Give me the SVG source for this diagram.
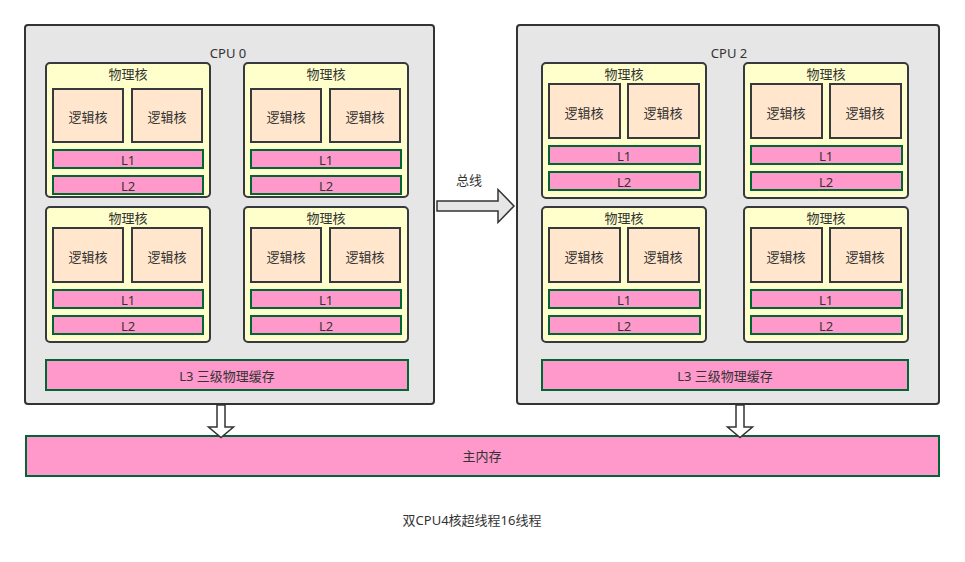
<svg xmlns="http://www.w3.org/2000/svg" width="965" height="562" viewBox="0 0 965 562">
<style>
text{font-family:"Noto Sans","Noto Sans CJK SC",sans-serif;font-size:13px;fill:#333333;text-anchor:middle;dominant-baseline:central}
.cpu{fill:#e6e6e6;stroke:#333333;stroke-width:2}
.core{fill:#ffffcc;stroke:#36393d;stroke-width:2}
.logic{fill:#ffe6cc;stroke:#36393d;stroke-width:2}
.cache{fill:#ff99cc;stroke:#006633;stroke-width:2}
.arrow{stroke:#333333;stroke-width:1.5;stroke-linejoin:miter}
</style>
<rect width="965" height="562" fill="#ffffff"/>
<g id="cpu0">
<rect class="cpu" x="25" y="25" width="409" height="379" rx="3"/>
<text x="228" y="53">CPU 0</text>
</g>
<g id="cpu2">
<rect class="cpu" x="517" y="25" width="422" height="379" rx="3"/>
<text x="729" y="53">CPU 2</text>
</g>
<g id="cpu0-core1" transform="translate(45,62)">
<rect class="core" x="1" y="1" width="164" height="134" rx="4"/>
<text x="83" y="12">物理核</text>
<rect class="logic" x="8" y="27" width="70" height="53"/><text x="43" y="55">逻辑核</text>
<rect class="logic" x="87" y="27" width="70" height="53"/><text x="122" y="55">逻辑核</text>
<rect class="cache" x="8" y="88" width="150" height="18"/><text x="83" y="98">L1</text>
<rect class="cache" x="8" y="114" width="150" height="18"/><text x="83" y="124">L2</text>
</g>
<g id="cpu0-core2" transform="translate(243,62)">
<rect class="core" x="1" y="1" width="164" height="134" rx="4"/>
<text x="83" y="12">物理核</text>
<rect class="logic" x="8" y="27" width="70" height="53"/><text x="43" y="55">逻辑核</text>
<rect class="logic" x="87" y="27" width="70" height="53"/><text x="122" y="55">逻辑核</text>
<rect class="cache" x="8" y="88" width="150" height="18"/><text x="83" y="98">L1</text>
<rect class="cache" x="8" y="114" width="150" height="18"/><text x="83" y="124">L2</text>
</g>
<g id="cpu0-core3" transform="translate(45,206)">
<rect class="core" x="1" y="1" width="164" height="135" rx="4"/>
<text x="83" y="12">物理核</text>
<rect class="logic" x="8" y="22" width="70" height="54"/><text x="43" y="51">逻辑核</text>
<rect class="logic" x="87" y="22" width="70" height="54"/><text x="122" y="51">逻辑核</text>
<rect class="cache" x="8" y="84" width="150" height="18"/><text x="83" y="94">L1</text>
<rect class="cache" x="8" y="110" width="150" height="18"/><text x="83" y="120">L2</text>
</g>
<g id="cpu0-core4" transform="translate(243,206)">
<rect class="core" x="1" y="1" width="164" height="135" rx="4"/>
<text x="83" y="12">物理核</text>
<rect class="logic" x="8" y="22" width="70" height="54"/><text x="43" y="51">逻辑核</text>
<rect class="logic" x="87" y="22" width="70" height="54"/><text x="122" y="51">逻辑核</text>
<rect class="cache" x="8" y="84" width="150" height="18"/><text x="83" y="94">L1</text>
<rect class="cache" x="8" y="110" width="150" height="18"/><text x="83" y="120">L2</text>
</g>
<g id="cpu2-core1" transform="translate(541,62)">
<rect class="core" x="1" y="1" width="164" height="135" rx="4"/>
<text x="83" y="12">物理核</text>
<rect class="logic" x="8" y="22" width="71" height="54"/><text x="43" y="51">逻辑核</text>
<rect class="logic" x="87" y="22" width="71" height="54"/><text x="122" y="51">逻辑核</text>
<rect class="cache" x="8" y="84" width="151" height="18"/><text x="83" y="94">L1</text>
<rect class="cache" x="8" y="110" width="151" height="18"/><text x="83" y="120">L2</text>
</g>
<g id="cpu2-core2" transform="translate(743,62)">
<rect class="core" x="1" y="1" width="164" height="135" rx="4"/>
<text x="83" y="12">物理核</text>
<rect class="logic" x="8" y="22" width="71" height="54"/><text x="43" y="51">逻辑核</text>
<rect class="logic" x="87" y="22" width="71" height="54"/><text x="122" y="51">逻辑核</text>
<rect class="cache" x="8" y="84" width="151" height="18"/><text x="83" y="94">L1</text>
<rect class="cache" x="8" y="110" width="151" height="18"/><text x="83" y="120">L2</text>
</g>
<g id="cpu2-core3" transform="translate(541,206)">
<rect class="core" x="1" y="1" width="164" height="135" rx="4"/>
<text x="83" y="12">物理核</text>
<rect class="logic" x="8" y="22" width="71" height="54"/><text x="43" y="51">逻辑核</text>
<rect class="logic" x="87" y="22" width="71" height="54"/><text x="122" y="51">逻辑核</text>
<rect class="cache" x="8" y="84" width="151" height="18"/><text x="83" y="94">L1</text>
<rect class="cache" x="8" y="110" width="151" height="18"/><text x="83" y="120">L2</text>
</g>
<g id="cpu2-core4" transform="translate(743,206)">
<rect class="core" x="1" y="1" width="164" height="135" rx="4"/>
<text x="83" y="12">物理核</text>
<rect class="logic" x="8" y="22" width="71" height="54"/><text x="43" y="51">逻辑核</text>
<rect class="logic" x="87" y="22" width="71" height="54"/><text x="122" y="51">逻辑核</text>
<rect class="cache" x="8" y="84" width="151" height="18"/><text x="83" y="94">L1</text>
<rect class="cache" x="8" y="110" width="151" height="18"/><text x="83" y="120">L2</text>
</g>
<g id="cpu0-l3">
<rect class="cache" x="46" y="360" width="362" height="30"/>
<text x="227" y="375.5">L3 三级物理缓存</text>
</g>
<g id="cpu2-l3">
<rect class="cache" x="542" y="360" width="366" height="30"/>
<text x="725" y="375.5">L3 三级物理缓存</text>
</g>
<g id="memory">
<rect class="cache" x="26" y="436" width="913" height="40"/>
<text x="482" y="456">主内存</text>
</g>
<g id="connectors">
<polygon class="arrow" fill="#e6e6e6" points="437,201 498,201 498,189.5 514,206 498,222.5 498,211 437,211"/>
<text x="469" y="180">总线</text>
<polygon class="arrow" fill="#ffffff" points="217,405 225,405 225,427 233.5,427 221,437.5 208.5,427 217,427"/>
<polygon class="arrow" fill="#ffffff" points="736,405 744,405 744,427 752.5,427 740,437.5 727.5,427 736,427"/>
</g>
<text x="472" y="520">双CPU4核超线程16线程</text>
</svg>
